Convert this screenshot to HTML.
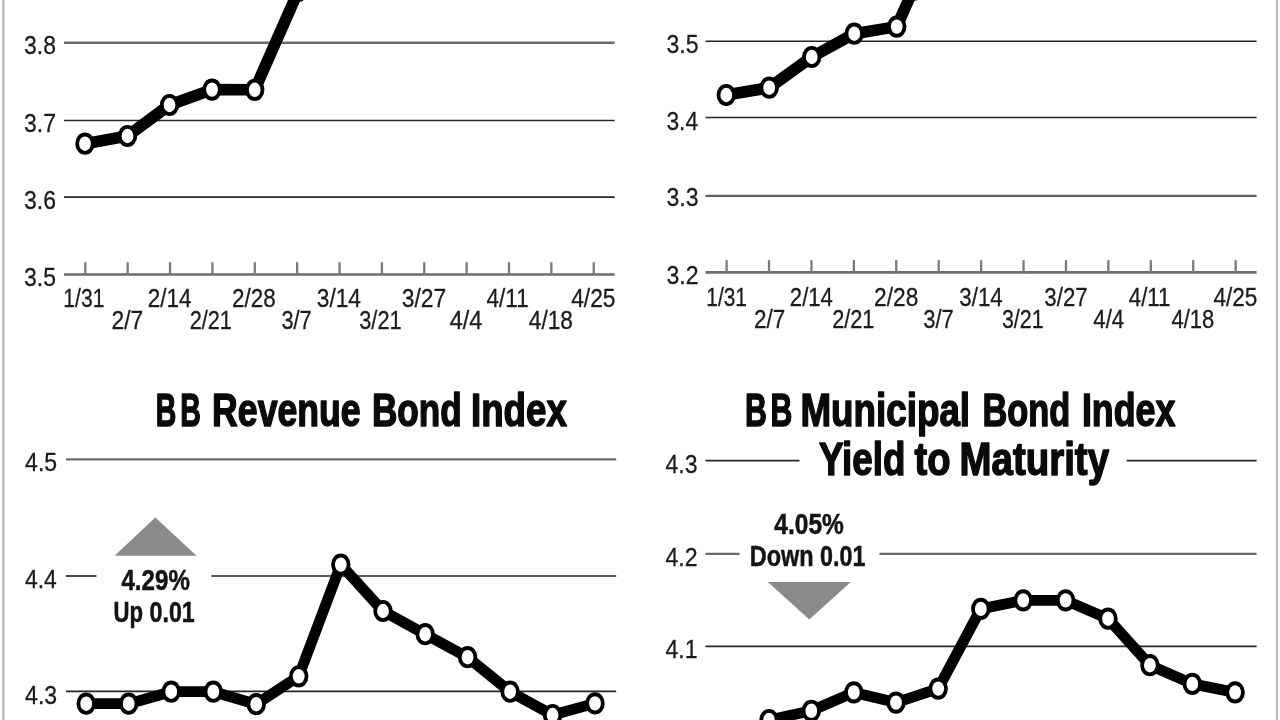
<!DOCTYPE html>
<html lang="en"><head><meta charset="utf-8"><title>Bond Buyer Indexes</title>
<style>
html,body{margin:0;padding:0;background:#fff;}
body{width:1280px;height:720px;overflow:hidden;}
svg{display:block;filter:blur(0.45px);}
text{font-family:"Liberation Sans",sans-serif;}
.lab{font-weight:400;fill:#1c1c1c;stroke:#1c1c1c;stroke-width:0.3px;}
.ttl{font-weight:700;fill:#0a0a0a;stroke:#0a0a0a;stroke-width:1.5px;paint-order:stroke;stroke-linejoin:round;}
.bld{font-weight:700;fill:#141414;stroke:#141414;stroke-width:0.5px;}
</style></head><body>
<svg width="1280" height="720" viewBox="0 0 1280 720">
<rect width="1280" height="720" fill="#fff"/>
<rect x="2.3" y="0" width="2.1" height="720" fill="#b4b4b4"/>
<rect x="1275.9" y="0" width="2.3" height="720" fill="#b9b9b9"/>
<line x1="64" y1="42.8" x2="614.7" y2="42.8" stroke="#6b6b6b" stroke-width="2.4"/>
<line x1="64" y1="120.5" x2="614.7" y2="120.5" stroke="#262626" stroke-width="1.7"/>
<line x1="64" y1="197.2" x2="614.7" y2="197.2" stroke="#262626" stroke-width="1.7"/>
<line x1="64" y1="274.5" x2="614.7" y2="274.5" stroke="#6c6c6c" stroke-width="2.7"/>
<line x1="85.3" y1="262.2" x2="85.3" y2="274.5" stroke="#7a7a7a" stroke-width="2.3"/>
<line x1="127.67" y1="262.2" x2="127.67" y2="274.5" stroke="#7a7a7a" stroke-width="2.3"/>
<line x1="170.04" y1="262.2" x2="170.04" y2="274.5" stroke="#7a7a7a" stroke-width="2.3"/>
<line x1="212.41" y1="262.2" x2="212.41" y2="274.5" stroke="#7a7a7a" stroke-width="2.3"/>
<line x1="254.78" y1="262.2" x2="254.78" y2="274.5" stroke="#7a7a7a" stroke-width="2.3"/>
<line x1="297.15" y1="262.2" x2="297.15" y2="274.5" stroke="#7a7a7a" stroke-width="2.3"/>
<line x1="339.52" y1="262.2" x2="339.52" y2="274.5" stroke="#7a7a7a" stroke-width="2.3"/>
<line x1="381.89" y1="262.2" x2="381.89" y2="274.5" stroke="#7a7a7a" stroke-width="2.3"/>
<line x1="424.26" y1="262.2" x2="424.26" y2="274.5" stroke="#7a7a7a" stroke-width="2.3"/>
<line x1="466.63" y1="262.2" x2="466.63" y2="274.5" stroke="#7a7a7a" stroke-width="2.3"/>
<line x1="509.0" y1="262.2" x2="509.0" y2="274.5" stroke="#7a7a7a" stroke-width="2.3"/>
<line x1="551.37" y1="262.2" x2="551.37" y2="274.5" stroke="#7a7a7a" stroke-width="2.3"/>
<line x1="593.74" y1="262.2" x2="593.74" y2="274.5" stroke="#7a7a7a" stroke-width="2.3"/>
<text class="lab" font-size="25.6" transform="translate(24.03,54.3) scale(0.8978,1)">3.8</text>
<text class="lab" font-size="25.6" transform="translate(24.03,131.8) scale(0.8978,1)">3.7</text>
<text class="lab" font-size="25.6" transform="translate(24.03,208.8) scale(0.8978,1)">3.6</text>
<text class="lab" font-size="25.6" transform="translate(24.03,285.5) scale(0.8978,1)">3.5</text>
<text class="lab" font-size="25.6" transform="translate(63.33,307.3) scale(0.8254,1)">1/31</text>
<text class="lab" font-size="25.6" transform="translate(147.84,307.3) scale(0.8794,1)">2/14</text>
<text class="lab" font-size="25.6" transform="translate(232.10,307.3) scale(0.8763,1)">2/28</text>
<text class="lab" font-size="25.6" transform="translate(316.74,307.3) scale(0.8887,1)">3/14</text>
<text class="lab" font-size="25.6" transform="translate(401.73,307.3) scale(0.8940,1)">3/27</text>
<text class="lab" font-size="25.6" transform="translate(486.50,307.3) scale(0.8798,1)">4/11</text>
<text class="lab" font-size="25.6" transform="translate(571.19,307.3) scale(0.8887,1)">4/25</text>
<text class="lab" font-size="25.6" transform="translate(111.58,329.3) scale(0.8906,1)">2/7</text>
<text class="lab" font-size="25.6" transform="translate(189.63,329.3) scale(0.8500,1)">2/21</text>
<text class="lab" font-size="25.6" transform="translate(281.47,329.3) scale(0.8504,1)">3/7</text>
<text class="lab" font-size="25.6" transform="translate(359.27,329.3) scale(0.8502,1)">3/21</text>
<text class="lab" font-size="25.6" transform="translate(449.78,329.3) scale(0.9175,1)">4/4</text>
<text class="lab" font-size="25.6" transform="translate(528.80,329.3) scale(0.8866,1)">4/18</text>
<polyline points="85,143.7 127.5,136 169.5,105 212,89.6 254.7,89.8 298.3,-9" fill="none" stroke="#000" stroke-width="11.6" stroke-linejoin="round"/>
<ellipse cx="85" cy="143.7" rx="9.7" ry="11.1" fill="#000"/><ellipse cx="85" cy="143.7" rx="5.9" ry="7.2" fill="#fff"/>
<ellipse cx="127.5" cy="136" rx="9.7" ry="11.1" fill="#000"/><ellipse cx="127.5" cy="136" rx="5.9" ry="7.2" fill="#fff"/>
<ellipse cx="169.5" cy="105" rx="9.7" ry="11.1" fill="#000"/><ellipse cx="169.5" cy="105" rx="5.9" ry="7.2" fill="#fff"/>
<ellipse cx="212" cy="89.6" rx="9.7" ry="11.1" fill="#000"/><ellipse cx="212" cy="89.6" rx="5.9" ry="7.2" fill="#fff"/>
<ellipse cx="254.7" cy="89.8" rx="9.7" ry="11.1" fill="#000"/><ellipse cx="254.7" cy="89.8" rx="5.9" ry="7.2" fill="#fff"/>
<ellipse cx="298.3" cy="-9" rx="9.7" ry="11.1" fill="#000"/><ellipse cx="298.3" cy="-9" rx="5.9" ry="7.2" fill="#fff"/>
<line x1="705.5" y1="41.25" x2="1256.6" y2="41.25" stroke="#262626" stroke-width="1.7"/>
<line x1="705.5" y1="117.5" x2="1256.6" y2="117.5" stroke="#262626" stroke-width="1.7"/>
<line x1="705.5" y1="195.9" x2="1256.6" y2="195.9" stroke="#606060" stroke-width="2.2"/>
<line x1="705.5" y1="272.4" x2="1256.6" y2="272.4" stroke="#6c6c6c" stroke-width="2.7"/>
<line x1="726.6" y1="260.2" x2="726.6" y2="272.4" stroke="#7a7a7a" stroke-width="2.3"/>
<line x1="769.02" y1="260.2" x2="769.02" y2="272.4" stroke="#7a7a7a" stroke-width="2.3"/>
<line x1="811.44" y1="260.2" x2="811.44" y2="272.4" stroke="#7a7a7a" stroke-width="2.3"/>
<line x1="853.86" y1="260.2" x2="853.86" y2="272.4" stroke="#7a7a7a" stroke-width="2.3"/>
<line x1="896.28" y1="260.2" x2="896.28" y2="272.4" stroke="#7a7a7a" stroke-width="2.3"/>
<line x1="938.7" y1="260.2" x2="938.7" y2="272.4" stroke="#7a7a7a" stroke-width="2.3"/>
<line x1="981.12" y1="260.2" x2="981.12" y2="272.4" stroke="#7a7a7a" stroke-width="2.3"/>
<line x1="1023.54" y1="260.2" x2="1023.54" y2="272.4" stroke="#7a7a7a" stroke-width="2.3"/>
<line x1="1065.96" y1="260.2" x2="1065.96" y2="272.4" stroke="#7a7a7a" stroke-width="2.3"/>
<line x1="1108.38" y1="260.2" x2="1108.38" y2="272.4" stroke="#7a7a7a" stroke-width="2.3"/>
<line x1="1150.8" y1="260.2" x2="1150.8" y2="272.4" stroke="#7a7a7a" stroke-width="2.3"/>
<line x1="1193.22" y1="260.2" x2="1193.22" y2="272.4" stroke="#7a7a7a" stroke-width="2.3"/>
<line x1="1235.64" y1="260.2" x2="1235.64" y2="272.4" stroke="#7a7a7a" stroke-width="2.3"/>
<text class="lab" font-size="25.6" transform="translate(666.43,52.7) scale(0.9007,1)">3.5</text>
<text class="lab" font-size="25.6" transform="translate(666.44,129.5) scale(0.8902,1)">3.4</text>
<text class="lab" font-size="25.6" transform="translate(666.43,206.3) scale(0.9007,1)">3.3</text>
<text class="lab" font-size="25.6" transform="translate(666.43,283.7) scale(0.9007,1)">3.2</text>
<text class="lab" font-size="25.6" transform="translate(706.35,305.8) scale(0.8148,1)">1/31</text>
<text class="lab" font-size="25.6" transform="translate(789.86,305.8) scale(0.8638,1)">2/14</text>
<text class="lab" font-size="25.6" transform="translate(874.09,305.8) scale(0.8868,1)">2/28</text>
<text class="lab" font-size="25.6" transform="translate(959.35,305.8) scale(0.8721,1)">3/14</text>
<text class="lab" font-size="25.6" transform="translate(1044.35,305.8) scale(0.8690,1)">3/27</text>
<text class="lab" font-size="25.6" transform="translate(1128.80,305.8) scale(0.8691,1)">4/11</text>
<text class="lab" font-size="25.6" transform="translate(1213.40,305.8) scale(0.8825,1)">4/25</text>
<text class="lab" font-size="25.6" transform="translate(754.10,327.5) scale(0.8756,1)">2/7</text>
<text class="lab" font-size="25.6" transform="translate(832.13,327.5) scale(0.8500,1)">2/21</text>
<text class="lab" font-size="25.6" transform="translate(923.21,327.5) scale(0.8578,1)">3/7</text>
<text class="lab" font-size="25.6" transform="translate(1001.88,327.5) scale(0.8398,1)">3/21</text>
<text class="lab" font-size="25.6" transform="translate(1093.30,327.5) scale(0.8683,1)">4/4</text>
<text class="lab" font-size="25.6" transform="translate(1171.41,327.5) scale(0.8618,1)">4/18</text>
<polyline points="726.25,95 769.2,87.7 811.75,57 854.25,33.7 896.75,26.6 913,-10" fill="none" stroke="#000" stroke-width="11.6" stroke-linejoin="round"/>
<ellipse cx="726.25" cy="95" rx="9.7" ry="11.1" fill="#000"/><ellipse cx="726.25" cy="95" rx="5.9" ry="7.2" fill="#fff"/>
<ellipse cx="769.2" cy="87.7" rx="9.7" ry="11.1" fill="#000"/><ellipse cx="769.2" cy="87.7" rx="5.9" ry="7.2" fill="#fff"/>
<ellipse cx="811.75" cy="57" rx="9.7" ry="11.1" fill="#000"/><ellipse cx="811.75" cy="57" rx="5.9" ry="7.2" fill="#fff"/>
<ellipse cx="854.25" cy="33.7" rx="9.7" ry="11.1" fill="#000"/><ellipse cx="854.25" cy="33.7" rx="5.9" ry="7.2" fill="#fff"/>
<ellipse cx="896.75" cy="26.6" rx="9.7" ry="11.1" fill="#000"/><ellipse cx="896.75" cy="26.6" rx="5.9" ry="7.2" fill="#fff"/>
<ellipse cx="913" cy="-10" rx="9.7" ry="11.1" fill="#000"/><ellipse cx="913" cy="-10" rx="5.9" ry="7.2" fill="#fff"/>
<line x1="66" y1="459.3" x2="616.2" y2="459.3" stroke="#6b6b6b" stroke-width="2.2"/>
<line x1="66" y1="576" x2="96.5" y2="576" stroke="#262626" stroke-width="1.7"/>
<line x1="211.3" y1="576" x2="616.2" y2="576" stroke="#262626" stroke-width="1.7"/>
<line x1="66" y1="691.3" x2="616.2" y2="691.3" stroke="#262626" stroke-width="1.7"/>
<text class="lab" font-size="25.6" transform="translate(25.09,471.2) scale(0.9019,1)">4.5</text>
<text class="lab" font-size="25.6" transform="translate(25.09,587.5) scale(0.8915,1)">4.4</text>
<text class="lab" font-size="25.6" transform="translate(25.09,703.7) scale(0.9019,1)">4.3</text>
<text class="ttl" font-size="45.6" letter-spacing="6.30" transform="translate(155.87,426.2) scale(0.6246,1)">BB</text>
<text class="ttl" font-size="45.6" transform="translate(212.12,426.2) scale(0.7813,1)">Revenue</text>
<text class="ttl" font-size="45.6" transform="translate(371.95,426.2) scale(0.7704,1)">Bond</text>
<text class="ttl" font-size="45.6" transform="translate(470.95,426.2) scale(0.8057,1)">Index</text>
<polygon points="155.3,517.6 196.6,555.8 114.6,555.8" fill="#8a8a8c"/>
<text class="bld" font-size="29" transform="translate(121.45,589.6) scale(0.8323,1)">4.29%</text>
<text class="bld" font-size="29" transform="translate(113.61,622) scale(0.7621,1)">Up</text>
<text class="bld" font-size="29" transform="translate(149.52,622) scale(0.8009,1)">0.01</text>
<polyline points="86.2,703.7 128.7,703.7 171.2,691.7 213.3,691.7 256.2,704.2 298.7,676.3 340.8,564.6 383,611 425.2,634.2 467.6,657.2 510.1,691.7 552.6,715 595,703.4" fill="none" stroke="#000" stroke-width="10.8" stroke-linejoin="round"/>
<ellipse cx="86.2" cy="703.7" rx="9.7" ry="11.1" fill="#000"/><ellipse cx="86.2" cy="703.7" rx="5.9" ry="7.2" fill="#fff"/>
<ellipse cx="128.7" cy="703.7" rx="9.7" ry="11.1" fill="#000"/><ellipse cx="128.7" cy="703.7" rx="5.9" ry="7.2" fill="#fff"/>
<ellipse cx="171.2" cy="691.7" rx="9.7" ry="11.1" fill="#000"/><ellipse cx="171.2" cy="691.7" rx="5.9" ry="7.2" fill="#fff"/>
<ellipse cx="213.3" cy="691.7" rx="9.7" ry="11.1" fill="#000"/><ellipse cx="213.3" cy="691.7" rx="5.9" ry="7.2" fill="#fff"/>
<ellipse cx="256.2" cy="704.2" rx="9.7" ry="11.1" fill="#000"/><ellipse cx="256.2" cy="704.2" rx="5.9" ry="7.2" fill="#fff"/>
<ellipse cx="298.7" cy="676.3" rx="9.7" ry="11.1" fill="#000"/><ellipse cx="298.7" cy="676.3" rx="5.9" ry="7.2" fill="#fff"/>
<ellipse cx="340.8" cy="564.6" rx="9.7" ry="11.1" fill="#000"/><ellipse cx="340.8" cy="564.6" rx="5.9" ry="7.2" fill="#fff"/>
<ellipse cx="383" cy="611" rx="9.7" ry="11.1" fill="#000"/><ellipse cx="383" cy="611" rx="5.9" ry="7.2" fill="#fff"/>
<ellipse cx="425.2" cy="634.2" rx="9.7" ry="11.1" fill="#000"/><ellipse cx="425.2" cy="634.2" rx="5.9" ry="7.2" fill="#fff"/>
<ellipse cx="467.6" cy="657.2" rx="9.7" ry="11.1" fill="#000"/><ellipse cx="467.6" cy="657.2" rx="5.9" ry="7.2" fill="#fff"/>
<ellipse cx="510.1" cy="691.7" rx="9.7" ry="11.1" fill="#000"/><ellipse cx="510.1" cy="691.7" rx="5.9" ry="7.2" fill="#fff"/>
<ellipse cx="552.6" cy="715" rx="9.7" ry="11.1" fill="#000"/><ellipse cx="552.6" cy="715" rx="5.9" ry="7.2" fill="#fff"/>
<ellipse cx="595" cy="703.4" rx="9.7" ry="11.1" fill="#000"/><ellipse cx="595" cy="703.4" rx="5.9" ry="7.2" fill="#fff"/>
<line x1="705.5" y1="460.7" x2="799.5" y2="460.7" stroke="#262626" stroke-width="1.7"/>
<line x1="1126.7" y1="460.7" x2="1256.6" y2="460.7" stroke="#262626" stroke-width="1.7"/>
<line x1="705.5" y1="553.9" x2="739.6" y2="553.9" stroke="#6b6b6b" stroke-width="2.2"/>
<line x1="879.5" y1="553.9" x2="1256.6" y2="553.9" stroke="#6b6b6b" stroke-width="2.2"/>
<line x1="705.5" y1="646.3" x2="1256.6" y2="646.3" stroke="#262626" stroke-width="1.7"/>
<text class="lab" font-size="25.6" transform="translate(665.49,472.7) scale(0.9019,1)">4.3</text>
<text class="lab" font-size="25.6" transform="translate(665.49,565.5) scale(0.9019,1)">4.2</text>
<text class="lab" font-size="25.6" transform="translate(665.49,658) scale(0.9019,1)">4.1</text>
<text class="ttl" font-size="45.6" letter-spacing="5.38" transform="translate(745.11,426.4) scale(0.6623,1)">BB</text>
<text class="ttl" font-size="45.6" transform="translate(800.45,426.4) scale(0.8069,1)">Municipal</text>
<text class="ttl" font-size="45.6" transform="translate(982.40,426.4) scale(0.7541,1)">Bond</text>
<text class="ttl" font-size="45.6" transform="translate(1081.91,426.4) scale(0.7851,1)">Index</text>
<text class="ttl" font-size="45.6" transform="translate(818.93,475.2) scale(0.8056,1)">Yield</text>
<text class="ttl" font-size="45.6" transform="translate(914.50,475.2) scale(0.8364,1)">to</text>
<text class="ttl" font-size="45.6" transform="translate(959.60,475.2) scale(0.8425,1)">Maturity</text>
<text class="bld" font-size="29" transform="translate(774.35,534) scale(0.8458,1)">4.05%</text>
<text class="bld" font-size="29" transform="translate(749.78,566) scale(0.8096,1)">Down</text>
<text class="bld" font-size="29" transform="translate(820.12,566) scale(0.8045,1)">0.01</text>
<polygon points="767.8,582 850.8,582 809.3,619.6" fill="#8a8a8c"/>
<polyline points="769,720 811.3,710.8 853.8,692.4 896,702.6 938.2,688.6 980.8,608.9 1023.2,600.4 1065.6,600.4 1108,618.7 1149.9,665.2 1192.3,683.9 1235.1,692.4" fill="none" stroke="#000" stroke-width="10.8" stroke-linejoin="round"/>
<ellipse cx="769" cy="720" rx="9.7" ry="11.1" fill="#000"/><ellipse cx="769" cy="720" rx="5.9" ry="7.2" fill="#fff"/>
<ellipse cx="811.3" cy="710.8" rx="9.7" ry="11.1" fill="#000"/><ellipse cx="811.3" cy="710.8" rx="5.9" ry="7.2" fill="#fff"/>
<ellipse cx="853.8" cy="692.4" rx="9.7" ry="11.1" fill="#000"/><ellipse cx="853.8" cy="692.4" rx="5.9" ry="7.2" fill="#fff"/>
<ellipse cx="896" cy="702.6" rx="9.7" ry="11.1" fill="#000"/><ellipse cx="896" cy="702.6" rx="5.9" ry="7.2" fill="#fff"/>
<ellipse cx="938.2" cy="688.6" rx="9.7" ry="11.1" fill="#000"/><ellipse cx="938.2" cy="688.6" rx="5.9" ry="7.2" fill="#fff"/>
<ellipse cx="980.8" cy="608.9" rx="9.7" ry="11.1" fill="#000"/><ellipse cx="980.8" cy="608.9" rx="5.9" ry="7.2" fill="#fff"/>
<ellipse cx="1023.2" cy="600.4" rx="9.7" ry="11.1" fill="#000"/><ellipse cx="1023.2" cy="600.4" rx="5.9" ry="7.2" fill="#fff"/>
<ellipse cx="1065.6" cy="600.4" rx="9.7" ry="11.1" fill="#000"/><ellipse cx="1065.6" cy="600.4" rx="5.9" ry="7.2" fill="#fff"/>
<ellipse cx="1108" cy="618.7" rx="9.7" ry="11.1" fill="#000"/><ellipse cx="1108" cy="618.7" rx="5.9" ry="7.2" fill="#fff"/>
<ellipse cx="1149.9" cy="665.2" rx="9.7" ry="11.1" fill="#000"/><ellipse cx="1149.9" cy="665.2" rx="5.9" ry="7.2" fill="#fff"/>
<ellipse cx="1192.3" cy="683.9" rx="9.7" ry="11.1" fill="#000"/><ellipse cx="1192.3" cy="683.9" rx="5.9" ry="7.2" fill="#fff"/>
<ellipse cx="1235.1" cy="692.4" rx="9.7" ry="11.1" fill="#000"/><ellipse cx="1235.1" cy="692.4" rx="5.9" ry="7.2" fill="#fff"/>
</svg>
</body></html>
